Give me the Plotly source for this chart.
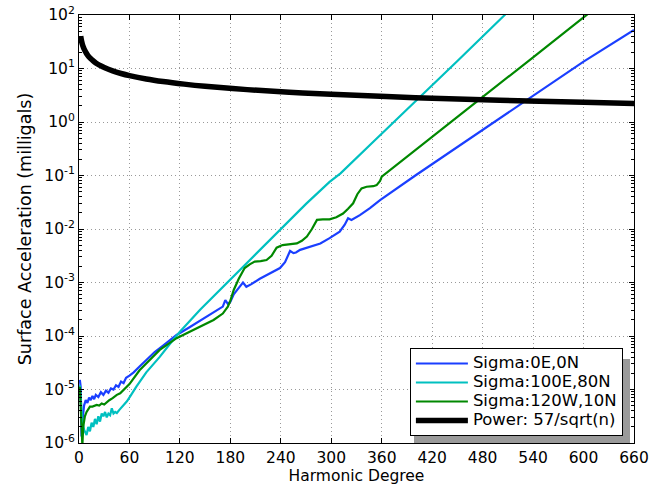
import plotly.graph_objects as go

# ---- data ----
blue_n = [1,2,3,4,6,8,10,12,14,16,18,20,23,26,29,32,35,38,41,44,47,50,53,56,60,65,72,80,90,100,
          116,130,145,160,171,174,177,180,184,190,195,199,205,215,227,239,245,251,255,258,263,275,
          287,298,310,316,320,324,334,346,358,400,450,500,550,600,660]
blue_log = [-4.82,-4.95,-5.88,-5.6,-5.3,-5.2,-5.25,-5.15,-5.2,-5.12,-5.18,-5.1,-5.14,-5.05,-5.1,-5.02,
            -5.06,-4.98,-5.0,-4.92,-4.95,-4.85,-4.88,-4.78,-4.74,-4.68,-4.57,-4.45,-4.3,-4.18,
            -3.98,-3.85,-3.7,-3.56,-3.45,-3.33,-3.4,-3.36,-3.22,-3.1,-3.0,-3.08,-3.03,-2.93,-2.83,
            -2.73,-2.62,-2.41,-2.45,-2.44,-2.39,-2.33,-2.27,-2.17,-2.05,-1.92,-1.80,-1.83,-1.74,
            -1.61,-1.46,-1.0,-0.47,0.06,0.6,1.13,1.72]

cyan_n = [1,2,4,6,9,11,13,15,17,19,21,23,25,27,29,31,33,35,37,39,41,43,45,48,51,54,57,62,68,80,
          96,108,120,144,160,180,215,239,270,298,311,350,400,450,505,510]
cyan_log = [-4.92,-5.2,-5.6,-5.75,-5.85,-5.7,-5.78,-5.62,-5.7,-5.55,-5.65,-5.5,-5.6,-5.45,-5.5,
            -5.42,-5.52,-5.45,-5.48,-5.35,-5.45,-5.42,-5.44,-5.38,-5.33,-5.28,-5.22,-5.1,-4.95,
            -4.68,-4.39,-4.15,-3.92,-3.51,-3.26,-2.95,-2.39,-2.02,-1.53,-1.12,-0.96,-0.37,0.38,
            1.14,1.98,2.06]

green_n = [1,2,3,4,5,7,9,11,13,16,19,21,24,27,30,33,36,40,45,49,55,60,72,84,96,116,130,144,160,
           171,177,180,184,190,197,203,209,216,223,229,235,242,250,259,265,271,277,283,290,298,
           306,314,320,326,331,336,342,350,354,358,360,364,420,473,540,602,610]
green_log = [-4.95,-5.3,-5.9,-6.05,-5.7,-5.5,-5.42,-5.36,-5.32,-5.32,-5.3,-5.29,-5.3,-5.26,-5.28,
             -5.23,-5.2,-5.16,-5.1,-5.07,-4.98,-4.9,-4.64,-4.45,-4.26,-4.04,-3.93,-3.83,-3.7,
             -3.58,-3.45,-3.34,-3.14,-2.93,-2.73,-2.66,-2.61,-2.6,-2.58,-2.5,-2.35,-2.3,-2.29,
             -2.27,-2.22,-2.14,-2.0,-1.83,-1.82,-1.82,-1.78,-1.71,-1.62,-1.52,-1.35,-1.24,-1.21,
             -1.2,-1.18,-1.1,-1.02,-0.97,-0.28,0.38,1.21,1.98,2.08]

black_n = [2,3,4,5,6,8,10,13,16,20,25,30,40,50,60,80,100,125,150,200,250,300,400,500,600,660]
black_v = [40.3,32.9,28.5,25.5,23.3,20.2,18.0,15.8,14.3,12.7,11.4,10.4,9.0,8.06,7.36,6.37,5.7,
           5.1,4.65,4.03,3.6,3.29,2.85,2.55,2.33,2.22]

names = ["Sigma:0E,0N", "Sigma:100E,80N", "Sigma:120W,10N", "Power: 57/sqrt(n)"]

x_ticks = [0,60,120,180,240,300,360,420,480,540,600,660]
y_exps = [-6,-5,-4,-3,-2,-1,0,1,2]

# ---- figure ----
def legname(s):
    return "<span style='font-size:16.5px'>%s</span>" % s

fig = go.Figure()
fig.add_trace(go.Scatter(x=blue_n, y=[10**v for v in blue_log], mode="lines", name=legname(names[0]),
                         line=dict(color="#1a3fff", width=2.2)))
fig.add_trace(go.Scatter(x=cyan_n, y=[10**v for v in cyan_log], mode="lines", name=legname(names[1]),
                         line=dict(color="#00c0c0", width=2.2)))
fig.add_trace(go.Scatter(x=green_n, y=[10**v for v in green_log], mode="lines", name=legname(names[2]),
                         line=dict(color="#008800", width=2.2)))
fig.add_trace(go.Scatter(x=black_n, y=black_v, mode="lines", name=legname(names[3]),
                         line=dict(color="black", width=5.5, shape="spline")))

font = "DejaVu Sans"
minor_vals = [k * 10**e for e in range(-6, 2) for k in range(2, 10)]
grid_dash = "1px,3px"

fig.update_layout(
    width=669, height=485,
    margin=dict(l=79, r=35, t=15, b=42),
    paper_bgcolor="white", plot_bgcolor="white",
    font=dict(family=font, size=15, color="black"),
    showlegend=True,
    legend=dict(x=0.98, y=0.0164, xanchor="right", yanchor="bottom",
                bgcolor="white", bordercolor="black", borderwidth=1,
                font=dict(family=font, size=12), tracegroupgap=0, itemwidth=52),
    shapes=[dict(type="rect", xref="paper", yref="paper", x0=0.6036, x1=0.9928, y0=0.0, y1=0.196,
                 fillcolor="#9a9a9a", line=dict(width=0), layer="above")],
)
fig.update_xaxes(range=[0, 660], tickvals=x_ticks, ticktext=[str(t) for t in x_ticks],
                 ticks="inside", ticklen=5, tickcolor="black", mirror="allticks",
                 showline=True, linecolor="black", linewidth=1, automargin=False,
                 showgrid=True, gridcolor="#999999", griddash=grid_dash, gridwidth=1,
                 zeroline=False,
                 title=dict(text="Harmonic Degree", font=dict(size=15.5), standoff=0),
                 tickfont=dict(size=15.5))
fig.update_yaxes(type="log", range=[-6, 2], tickvals=[10**e for e in y_exps],
                 ticktext=["10<sup>%d</sup>" % e for e in y_exps],
                 ticks="inside", ticklen=5, tickcolor="black", mirror="allticks",
                 showline=True, linecolor="black", linewidth=1, automargin=False,
                 showgrid=True, gridcolor="#999999", griddash=grid_dash, gridwidth=1,
                 zeroline=False,
                 minor=dict(tickvals=minor_vals, ticks="inside", ticklen=3, tickcolor="black",
                            showgrid=False),
                 title=dict(text="Surface Acceleration (milligals)", font=dict(size=17.5), standoff=8),
                 tickfont=dict(size=15.5))

fig.write_html("out.html", config={"displayModeBar": False},
               post_script="document.body.style.margin='0';")
